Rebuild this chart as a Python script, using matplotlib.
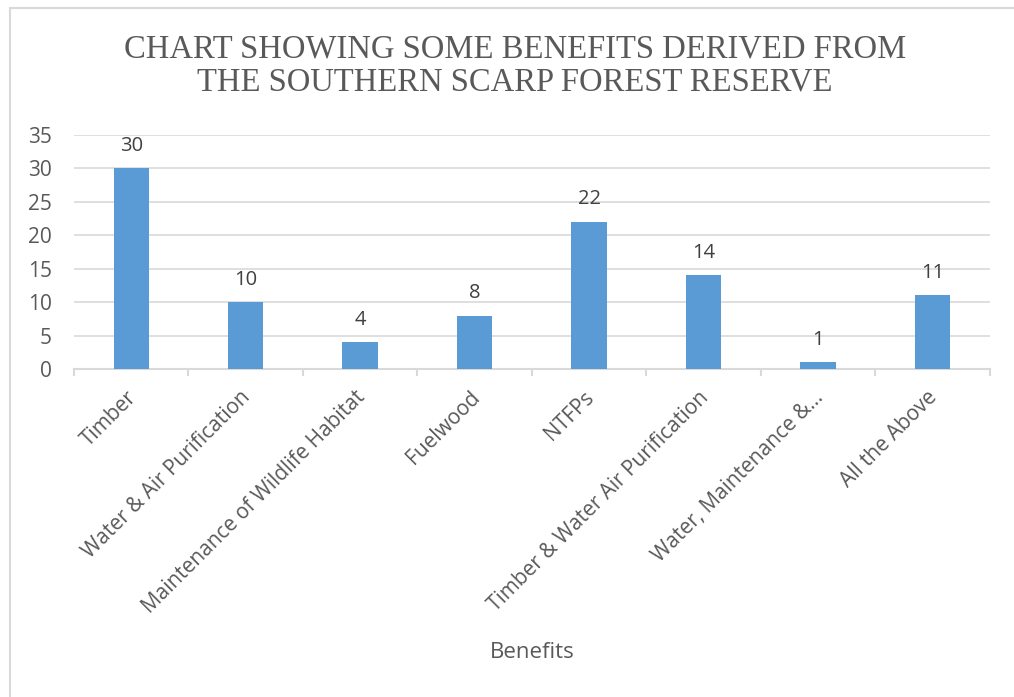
import matplotlib.pyplot as plt
from matplotlib.patches import Rectangle

# %% Data
categories = [
    "Timber",
    "Water & Air Purification",
    "Maintenance of Wildlife Habitat",
    "Fuelwood",
    "NTFPs",
    "Timber & Water Air Purification",
    "Water, Maintenance &\u2026",
    "All the Above",
]
counts = [30, 10, 4, 8, 22, 14, 1, 11]

# %% Style
bar_color = "#5B9BD5"
text_color = "#595959"
grid_color = "#D9D9D9"
plt.rcParams["font.family"] = ["Open Sans", "DejaVu Sans"]

fig = plt.figure(figsize=(10.14, 6.97), dpi=100)
ax = fig.add_axes([0.073, 0.4706, 0.903, 0.3357])

x = range(len(categories))
bars = ax.bar(x, counts, width=0.31, color=bar_color, zorder=3)
ax.bar_label(bars, padding=9, fontsize=14.5, color="#404040")

ax.set_xlim(-0.5, len(categories) - 0.5)
ax.set_ylim(0, 35)
ax.set_yticks(range(0, 36, 5))
ax.grid(axis="y", color=grid_color, lw=1.2, zorder=0)

for side in ("top", "right", "left"):
    ax.spines[side].set_visible(False)
ax.spines["bottom"].set_color(grid_color)
ax.spines["bottom"].set_linewidth(1.5)

# category boundary ticks
ax.set_xticks([i - 0.5 for i in range(len(categories) + 1)], minor=False)
ax.set_xticklabels([])
ax.tick_params(axis="x", length=5, width=1.5, color=grid_color)
ax.tick_params(axis="y", length=0, pad=16, labelsize=15, labelcolor=text_color)

# rotated category labels
for i, name in enumerate(categories):
    ax.annotate(
        name, xy=(i, 0), xycoords=("data", "axes fraction"),
        xytext=(-4, -13), textcoords="offset points",
        rotation=45, rotation_mode="anchor", ha="right", va="top",
        fontsize=15, color=text_color,
    )

fig.text(0.525, 0.064, "Benefits", ha="center", va="center",
         fontsize=16, color=text_color)

fig.text(0.508, 0.906,
         "CHART SHOWING SOME BENEFITS DERIVED FROM\nTHE SOUTHERN SCARP FOREST RESERVE",
         ha="center", va="center", fontsize=23.5, color=text_color,
         family="Liberation Serif", linespacing=1.12)

fig.patches.append(Rectangle((0.0099, -0.02), 1.05, 1.0085, transform=fig.transFigure,
                             fill=False, ec=grid_color, lw=1.5))

fig.savefig("out.png", dpi=100)
